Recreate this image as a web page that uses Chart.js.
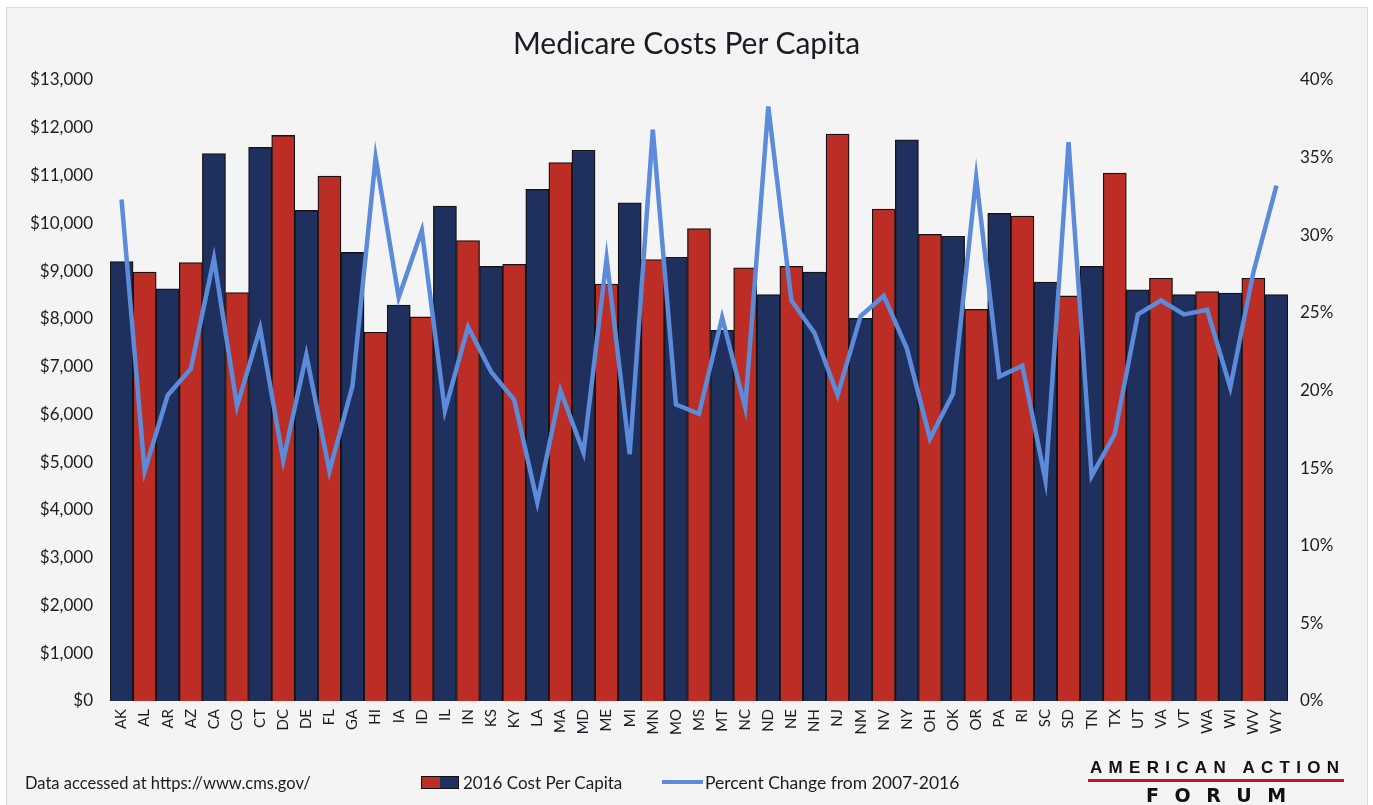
<!DOCTYPE html>
<html>
<head>
<meta charset="utf-8">
<script src="https://cdn.jsdelivr.net/npm/chart.js@4.4.1/dist/chart.umd.min.js"></script>
<style>
  html, body { margin: 0; padding: 0; background: #fff; }
  body { width: 1373px; height: 805px; position: relative; overflow: hidden; font-family: Lato, sans-serif; color: #1b1b24; }
  #panel { position: absolute; left: 6px; top: 7px; width: 1360px; height: 820px; background: #f4f4f4; border: 1px solid #d9d9d9; }
  #wrap { position: absolute; left: 0; top: 0; width: 1373px; height: 805px; }
  #title { position: absolute; left: 0; width: 1373px; top: 27px; text-align: center; font-size: 30px; line-height: 30px; }
  .txt { position: absolute; font-size: 17px; line-height: 17px; white-space: nowrap; }
  #swatch { position: absolute; left: 421px; top: 776px; width: 36px; height: 11px; border: 1px solid #111; display: flex; }
  #swatch span { flex: 1; }
  #lineKey { position: absolute; left: 662px; top: 780px; width: 41px; height: 4px; background: #5b8bd9; }
  #aaf1 { position: absolute; left: 1090px; top: 758px; font: bold 17px "Liberation Sans", Arial, sans-serif; letter-spacing: 6.3px; color: #111; white-space: nowrap; }
  #aafline { position: absolute; left: 1088px; top: 779px; width: 256px; height: 3px; background: #c8102e; }
  #aaf2 { position: absolute; left: 1146px; top: 784px; font: bold 19px "DejaVu Sans", sans-serif; letter-spacing: 15.5px; color: #111; white-space: nowrap; }
</style>
</head>
<body>
<div id="panel"></div>
<div id="wrap"><canvas id="chart" width="1373" height="805"></canvas></div>
<div id="title">Medicare Costs Per Capita</div>
<div class="txt" id="source" style="left:25px; top:775px; font-size:16.5px;">Data accessed at https://www.cms.gov/</div>
<div id="swatch"><span style="background:#bc2d26"></span><span style="background:#1f2f5e"></span></div>
<div class="txt" style="left:463px; top:774px;">2016 Cost Per Capita</div>
<div id="lineKey"></div>
<div class="txt" style="left:705px; top:774px; font-size:17.5px;">Percent Change from 2007-2016</div>
<div id="aaf1">AMERICAN ACTION</div>
<div id="aafline"></div>
<div id="aaf2">FORUM</div>
<script>
// --- DADOS ---
const states = ['AK','AL','AR','AZ','CA','CO','CT','DC','DE','FL','GA','HI','IA','ID','IL','IN','KS','KY','LA','MA','MD','ME','MI','MN','MO','MS','MT','NC','ND','NE','NH','NJ','NM','NV','NY','OH','OK','OR','PA','RI','SC','SD','TN','TX','UT','VA','VT','WA','WI','WV','WY'];

const costs2016 = [9200, 8980, 8630, 9180, 11460, 8550, 11590, 11840, 10270, 10990, 9390, 7720, 8290, 8040, 10360, 9640, 9100, 9140,
  10710, 11270, 11530, 8730, 10430, 9240, 9290, 9890, 7760, 9070, 8510, 9100, 8980, 11870, 8010, 10300, 11750, 9770, 9730, 8200,
  10210, 10150, 8770, 8480, 9100, 11050, 8610, 8850, 8510, 8570, 8540, 8850, 8510];

const pctChange = [32.3, 14.8, 19.7, 21.4, 28.5, 19.0, 24.0, 15.5, 22.3, 14.8, 20.3, 35.0, 26.0, 30.3, 18.7, 24.1, 21.2, 19.4,
  12.8, 20.0, 16.0, 28.5, 15.9, 36.8, 19.1, 18.5, 24.7, 18.9, 38.3, 25.8, 23.7, 19.7, 24.8, 26.1, 22.7, 16.9, 19.8, 33.7,
  20.9, 21.6, 14.2, 36.0, 14.5, 17.2, 24.9, 25.8, 24.9, 25.2, 20.2, 27.6, 33.2];

const costTicksMax = 13000;
const pctTicksMax = 40;

// --- CORES ---
const NAVY = '#1f2f5e';
const RED = '#bc2d26';
const LINE = '#5b8bd9';
const TEXT = '#1b1b24';

const ctx = document.getElementById('chart').getContext('2d');
new Chart(ctx, {
    type: 'bar',
    data: {
        labels: states,
        datasets: [
            {
                type: 'line',
                label: 'Percent Change from 2007-2016',
                data: pctChange,
                yAxisID: 'y1',
                borderColor: LINE,
                borderWidth: 4.5,
                pointRadius: 0,
                tension: 0,
                order: 0
            },
            {
                label: '2016 Cost Per Capita',
                data: costs2016,
                yAxisID: 'y',
                backgroundColor: c => (c.dataIndex % 2 ? RED : NAVY),
                borderColor: '#141414',
                borderWidth: 1.3,
                categoryPercentage: 1,
                barPercentage: 1,
                order: 1
            }
        ]
    },
    options: {
        responsive: false,
        animation: false,
        layout: { padding: { top: 80, left: 0, right: 0, bottom: 0 } },
        plugins: { legend: { display: false }, tooltip: { enabled: false }, title: { display: false } },
        scales: {
            x: {
                grid: { display: false, drawTicks: false },
                border: { display: false },
                ticks: { color: TEXT, font: { family: 'Lato', size: 15 }, minRotation: 90, maxRotation: 90, padding: 8, autoSkip: false },
                afterFit: s => { s.height = 104; }
            },
            y: {
                position: 'left',
                min: 0, max: costTicksMax,
                grid: { display: false, drawTicks: false },
                border: { display: false },
                ticks: { stepSize: 1000, color: TEXT, padding: 17, font: { family: 'Lato', size: 17 },
                    callback: v => '$' + v.toLocaleString('en-US') },
                afterFit: s => { s.width = 110; }
            },
            y1: {
                position: 'right',
                min: 0, max: pctTicksMax,
                grid: { display: false, drawTicks: false },
                border: { display: false },
                ticks: { stepSize: 5, color: TEXT, padding: 12, font: { family: 'Lato', size: 17 },
                    callback: v => v + '%' },
                afterFit: s => { s.width = 85; }
            }
        }
    }
});
</script>
</body>
</html>
